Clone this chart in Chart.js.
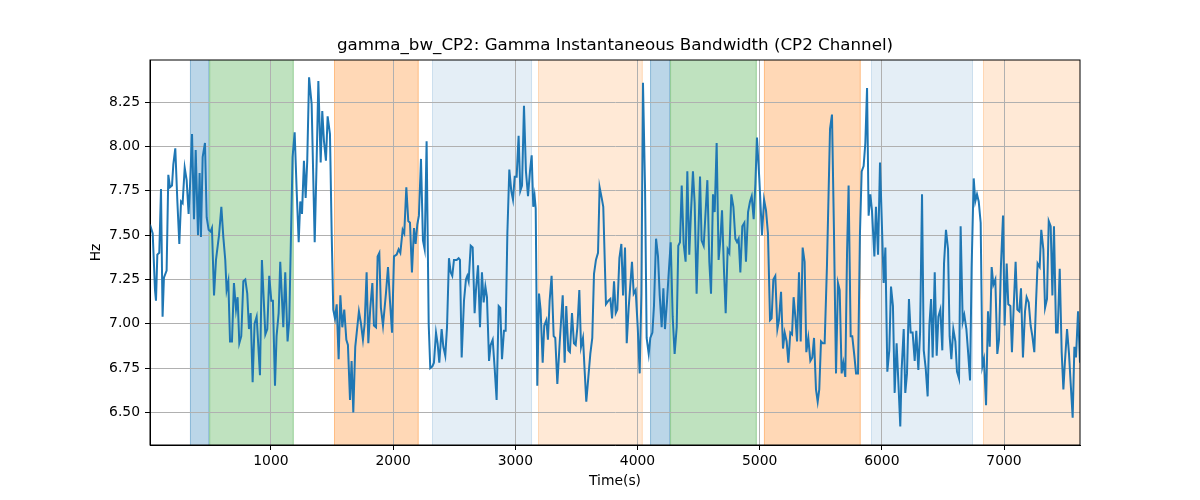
<!DOCTYPE html>
<html>
<head>
<meta charset="utf-8">
<title>gamma_bw_CP2</title>
<script src="https://cdn.jsdelivr.net/npm/chart.js@4.4.1/dist/chart.umd.min.js"></script>
<style>
    html, body { margin: 0; padding: 0; background: #fff; }
    #wrap { width: 1200px; height: 500px; position: relative; }
</style>
</head>
<body>
<div id="wrap"><canvas id="chart"></canvas></div>
<script>
// values
const times = [
    10, 32, 51, 59, 70, 86, 100, 113, 124, 146, 160, 174, 190, 201, 217, 234, 250, 264, 277, 294,
    310, 326, 337, 354, 370, 384, 403, 416, 427, 441, 460, 474, 490, 506, 517, 534, 550, 575, 594, 610,
    626, 637, 651, 665, 681, 697, 714, 727, 741, 757, 774, 790, 806, 820, 834, 850, 866, 883, 910, 926,
    954, 970, 986, 1003, 1016, 1033, 1046, 1063, 1076, 1101, 1117, 1136, 1150, 1177, 1194, 1210, 1227, 1240, 1254, 1270,
    1284, 1297, 1312, 1333, 1358, 1374, 1388, 1407, 1420, 1434, 1450, 1464, 1483, 1497, 1510, 1524, 1538, 1554, 1568, 1584,
    1600, 1617, 1630, 1647, 1660, 1674, 1690, 1720, 1737, 1753, 1767, 1783, 1797, 1813, 1830, 1843, 1860, 1873, 1887, 1900,
    1917, 1941, 1958, 1974, 1991, 2007, 2029, 2045, 2059, 2078, 2091, 2108, 2124, 2138, 2154, 2171, 2184, 2198, 2211, 2228,
    2244, 2258, 2274, 2291, 2304, 2321, 2334, 2351, 2364, 2378, 2397, 2411, 2427, 2441, 2457, 2471, 2484, 2498, 2520, 2536,
    2547, 2561, 2580, 2596, 2607, 2618, 2635, 2651, 2667, 2678, 2695, 2711, 2727, 2741, 2755, 2768, 2785, 2798, 2815, 2831,
    2847, 2864, 2877, 2891, 2907, 2921, 2935, 2951, 2967, 2981, 2995, 3011, 3027, 3041, 3055, 3071, 3087, 3104, 3120, 3134,
    3147, 3158, 3167, 3180, 3194, 3207, 3224, 3237, 3254, 3267, 3281, 3297, 3314, 3327, 3344, 3363, 3388, 3404, 3417, 3434,
    3447, 3464, 3480, 3494, 3508, 3524, 3538, 3554, 3568, 3581, 3598, 3614, 3630, 3644, 3660, 3677, 3690, 3707, 3720, 3742,
    3762, 3778, 3792, 3808, 3822, 3835, 3852, 3868, 3882, 3898, 3912, 3928, 3955, 3969, 3985, 4002, 4018, 4032, 4045, 4062,
    4075, 4092, 4105, 4122, 4135, 4152, 4168, 4182, 4198, 4212, 4225, 4242, 4255, 4272, 4288, 4304, 4321, 4334, 4348, 4362,
    4378, 4394, 4408, 4424, 4438, 4454, 4468, 4484, 4498, 4512, 4525, 4542, 4555, 4572, 4588, 4602, 4618, 4632, 4648, 4664,
    4678, 4692, 4708, 4722, 4738, 4752, 4768, 4785, 4801, 4815, 4828, 4842, 4858, 4875, 4888, 4905, 4921, 4935, 4951, 4965,
    4978, 4997, 5019, 5036, 5052, 5068, 5085, 5098, 5112, 5128, 5145, 5158, 5175, 5191, 5205, 5221, 5235, 5251, 5265, 5278,
    5292, 5306, 5322, 5336, 5352, 5368, 5382, 5398, 5415, 5431, 5445, 5461, 5475, 5488, 5502, 5516, 5532, 5551, 5576, 5592,
    5608, 5625, 5641, 5655, 5671, 5685, 5701, 5715, 5728, 5745, 5758, 5775, 5789, 5805, 5821, 5835, 5851, 5865, 5879, 5892,
    5906, 5919, 5939, 5952, 5969, 5985, 6001, 6015, 6029, 6045, 6061, 6075, 6091, 6105, 6121, 6138, 6151, 6162, 6179, 6192,
    6206, 6222, 6236, 6252, 6269, 6282, 6299, 6313, 6329, 6343, 6359, 6375, 6389, 6403, 6416, 6433, 6449, 6463, 6479, 6495,
    6509, 6525, 6542, 6555, 6569, 6585, 6602, 6615, 6632, 6645, 6662, 6675, 6692, 6705, 6722, 6735, 6752, 6765, 6779, 6793,
    6809, 6823, 6836, 6853, 6869, 6883, 6899, 6913, 6929, 6945, 6959, 6975, 6992, 7005, 7022, 7035, 7052, 7065, 7079, 7095,
    7109, 7125, 7139, 7155, 7172, 7185, 7202, 7218, 7232, 7248, 7262, 7275, 7292, 7305, 7322, 7336, 7352, 7366, 7382, 7396,
    7409, 7426, 7439, 7456, 7472, 7486, 7499, 7516, 7532, 7546, 7562, 7576, 7589, 7606, 7622
];
const values = [
    7.56, 7.51, 7.19, 7.13, 7.39, 7.40, 7.76, 7.04, 7.26, 7.30, 7.84, 7.77, 7.78, 7.90, 7.99, 7.69, 7.45, 7.69, 7.68, 7.88,
    7.81, 7.62, 7.77, 8.07, 7.59, 7.98, 7.50, 7.85, 7.49, 7.94, 8.02, 7.60, 7.53, 7.52, 7.54, 7.16, 7.36, 7.50, 7.66, 7.49,
    7.36, 7.19, 7.24, 6.90, 6.90, 7.23, 7.08, 7.15, 6.89, 6.93, 7.24, 7.25, 7.17, 6.97, 7.06, 6.67, 7.00, 7.04, 6.71, 7.36,
    6.94, 6.97, 7.27, 7.13, 7.13, 6.65, 6.93, 7.06, 7.35, 6.98, 7.29, 6.90, 7.02, 7.94, 8.08, 7.76, 7.46, 7.69, 7.62, 7.92,
    7.71, 7.92, 8.39, 8.24, 7.46, 7.92, 8.37, 7.91, 8.20, 8.03, 7.92, 8.17, 8.07, 7.51, 7.08, 7.03, 7.11, 6.80, 7.16, 6.98,
    7.08, 6.91, 6.88, 6.57, 6.79, 6.50, 6.87, 7.07, 7.00, 6.91, 7.00, 7.29, 6.89, 7.09, 7.23, 6.99, 6.98, 7.38, 7.40, 7.09,
    6.99, 7.17, 7.32, 7.13, 6.95, 7.38, 7.39, 7.42, 7.40, 7.53, 7.51, 7.77, 7.58, 7.57, 7.29, 7.54, 7.45, 7.56, 7.61, 7.93,
    7.47, 7.42, 8.03, 7.00, 6.75, 6.76, 6.78, 6.95, 6.89, 6.78, 6.97, 6.87, 6.82, 6.98, 7.37, 7.29, 7.27, 7.36, 7.36, 7.37,
    7.36, 6.81, 7.13, 7.25, 7.27, 7.24, 7.44, 7.43, 7.06, 7.19, 7.33, 6.98, 7.29, 7.12, 7.21, 7.15, 6.79, 6.88, 6.91, 6.75,
    6.57, 7.10, 7.09, 6.80, 6.96, 6.96, 7.51, 7.87, 7.75, 7.70, 7.83, 7.83, 8.06, 7.75, 7.78, 8.23, 7.86, 7.72, 7.86, 7.95,
    7.66, 7.72, 7.65, 6.65, 7.17, 7.08, 6.78, 6.99, 7.02, 6.91, 7.13, 7.27, 6.93, 6.92, 6.66, 6.89, 7.16, 6.78, 7.10, 6.85,
    6.84, 7.06, 6.89, 6.88, 6.98, 7.19, 6.87, 6.92, 6.73, 6.56, 6.70, 6.83, 6.92, 7.28, 7.36, 7.40, 7.77, 7.71, 7.66, 7.11,
    7.13, 7.14, 7.03, 7.24, 7.06, 7.08, 7.37, 7.45, 7.16, 7.43, 6.89, 7.09, 7.35, 7.17, 7.19, 6.98, 6.72, 7.17, 8.36, 7.76,
    6.92, 6.83, 6.92, 6.95, 7.10, 7.48, 7.38, 7.16, 6.98, 7.20, 6.97, 7.13, 7.28, 7.46, 7.04, 6.83, 6.98, 7.44, 7.46, 7.78,
    7.45, 7.35, 7.86, 7.39, 7.63, 7.86, 7.68, 7.17, 7.50, 7.83, 7.47, 7.44, 7.60, 7.81, 7.35, 7.17, 7.73, 7.63, 8.02, 7.36,
    7.47, 7.64, 7.30, 7.06, 7.42, 7.40, 7.73, 7.66, 7.48, 7.46, 7.48, 7.29, 7.55, 7.57, 7.35, 7.63, 7.69, 7.72, 7.59, 7.79,
    8.05, 7.82, 7.50, 7.70, 7.64, 7.51, 7.02, 7.03, 7.25, 7.27, 6.97, 7.02, 7.18, 6.86, 6.95, 6.90, 6.78, 6.95, 6.94, 7.15,
    7.04, 6.90, 7.29, 6.90, 7.43, 7.35, 6.84, 6.92, 6.79, 6.81, 6.92, 6.63, 6.56, 6.63, 6.90, 6.89, 6.89, 7.33, 8.10, 8.18,
    7.53, 6.72, 7.23, 7.19, 6.72, 6.78, 6.70, 7.39, 7.78, 6.93, 6.93, 6.82, 6.72, 6.72, 7.51, 7.86, 7.89, 8.02, 8.33, 7.61,
    7.73, 7.64, 7.38, 7.66, 7.39, 7.91, 7.55, 7.23, 7.43, 6.73, 6.85, 7.21, 7.10, 6.61, 6.89, 6.63, 6.42, 6.74, 6.97, 6.61,
    6.72, 7.14, 6.95, 6.95, 6.79, 6.96, 6.74, 6.95, 7.73, 6.85, 6.75, 6.59, 6.99, 7.14, 6.81, 7.29, 6.82, 7.04, 7.08, 6.85,
    7.34, 7.53, 7.42, 6.93, 6.80, 6.97, 6.90, 6.73, 6.69, 7.55, 7.01, 7.05, 6.97, 6.85, 6.68, 7.32, 7.82, 7.69, 7.73, 7.69,
    7.57, 6.76, 6.80, 6.54, 7.07, 6.87, 7.32, 7.22, 7.25, 6.83, 6.91, 7.33, 7.61, 6.99, 7.34, 7.11, 7.10, 6.84, 7.09, 7.35,
    7.08, 7.07, 7.20, 6.81, 7.07, 7.15, 7.12, 6.99, 6.93, 6.84, 7.12, 7.34, 7.32, 7.53, 7.42, 7.09, 7.14, 7.58, 7.55, 7.16,
    7.55, 6.95, 6.95, 7.31, 6.84, 6.63, 6.79, 6.97, 6.83, 6.66, 6.47, 6.87, 6.81, 7.07, 6.78
];

const xTicks = [1000, 2000, 3000, 4000, 5000, 6000, 7000];
const yTicks = [6.5, 6.75, 7.0, 7.25, 7.5, 7.75, 8.0, 8.25];

// shaded segments (start, end, colour)
const spanStarts = [337, 495, 1516, 2318, 3186, 4103, 4267, 5035, 5911, 6828];
const spanEnds = [495, 1186, 2209, 3137, 4043, 4267, 4976, 5827, 6746, 7700];
const spanColors = [
    'rgba(31, 119, 180, 0.3)',
    'rgba(44, 160, 44, 0.3)',
    'rgba(255, 127, 14, 0.3)',
    'rgba(31, 119, 180, 0.12)',
    'rgba(255, 127, 14, 0.17)',
    'rgba(31, 119, 180, 0.3)',
    'rgba(44, 160, 44, 0.3)',
    'rgba(255, 127, 14, 0.3)',
    'rgba(31, 119, 180, 0.12)',
    'rgba(255, 127, 14, 0.17)',
];

const TITLE = 'gamma_bw_CP2: Gamma Instantaneous Bandwidth (CP2 Channel)';
const FONT = 'DejaVu Sans';

const spansPlugin = {
    id: 'spans',
    beforeDraw(chart) {
        const { ctx, chartArea: a, scales } = chart;
        ctx.save();
        ctx.beginPath();
        ctx.rect(a.left, a.top, a.right - a.left, a.bottom - a.top);
        ctx.clip();
        spanStarts.forEach((s, i) => {
            const x0 = scales.x.getPixelForValue(s);
            const x1 = scales.x.getPixelForValue(spanEnds[i]);
            ctx.fillStyle = spanColors[i];
            ctx.fillRect(x0, a.top, x1 - x0, a.bottom - a.top);
            ctx.strokeStyle = spanColors[i];
            ctx.lineWidth = 1;
            ctx.strokeRect(x0 + 0.5, a.top - 1, x1 - x0 - 1, a.bottom - a.top + 2);
        });
        ctx.restore();
    },
    afterDraw(chart) {
        const { ctx, chartArea: a } = chart;
        ctx.save();
        ctx.strokeStyle = '#000';
        ctx.lineWidth = 1;
        ctx.strokeRect(a.left, a.top, a.right - a.left, a.bottom - a.top);
        // title centred over the plot area, like matplotlib
        ctx.fillStyle = '#000';
        ctx.font = `16.7px "${FONT}"`;
        ctx.textAlign = 'center';
        ctx.textBaseline = 'middle';
        ctx.fillText(TITLE, (a.left + a.right) / 2, 46);
        ctx.restore();
    },
};

new Chart(document.getElementById('chart'), {
    type: 'line',
    data: {
        datasets: [
            {
                data: times.map((t, i) => ({ x: t, y: values[i] })),
                borderColor: '#1f77b4',
                borderWidth: 2,
                pointRadius: 0,
                tension: 0,
                fill: false,
            },
        ],
    },
    options: {
        responsive: true,
        maintainAspectRatio: false,
        animation: false,
        layout: { padding: { left: 0, right: 120, top: 60, bottom: 0 } },
        plugins: {
            legend: { display: false },
            tooltip: { enabled: false },
            title: { display: false },
        },
        scales: {
            x: {
                type: 'linear',
                min: 10,
                max: 7622,
                afterBuildTicks: (s) => { s.ticks = xTicks.map((v) => ({ value: v })); },
                afterFit: (s) => { s.height = 55; },
                ticks: {
                    color: '#000',
                    font: { family: FONT, size: 13.9 },
                    padding: 3,
                    maxRotation: 0,
                    callback: (v) => String(v),
                },
                grid: { color: '#b0b0b0', lineWidth: 1, tickColor: '#000', tickLength: 5 },
                border: { display: true, color: '#000', width: 1 },
                title: {
                    display: true,
                    text: 'Time(s)',
                    color: '#000',
                    font: { family: FONT, size: 13.9 },
                    padding: { top: 0, bottom: 10.5 },
                },
            },
            y: {
                type: 'linear',
                min: 6.316,
                max: 8.488,
                afterBuildTicks: (s) => { s.ticks = yTicks.map((v) => ({ value: v })); },
                afterFit: (s) => { s.width = 150; },
                ticks: {
                    color: '#000',
                    font: { family: FONT, size: 13.9 },
                    padding: 5,
                    callback: (v) => Number(v).toFixed(2),
                },
                grid: { color: '#b0b0b0', lineWidth: 1, tickColor: '#000', tickLength: 5 },
                border: { display: true, color: '#000', width: 1 },
                title: {
                    display: true,
                    text: 'Hz',
                    color: '#000',
                    font: { family: FONT, size: 13.9 },
                    padding: { top: 88.5, bottom: 0 },
                },
            },
        },
    },
    plugins: [spansPlugin],
});
</script>
</body>
</html>
